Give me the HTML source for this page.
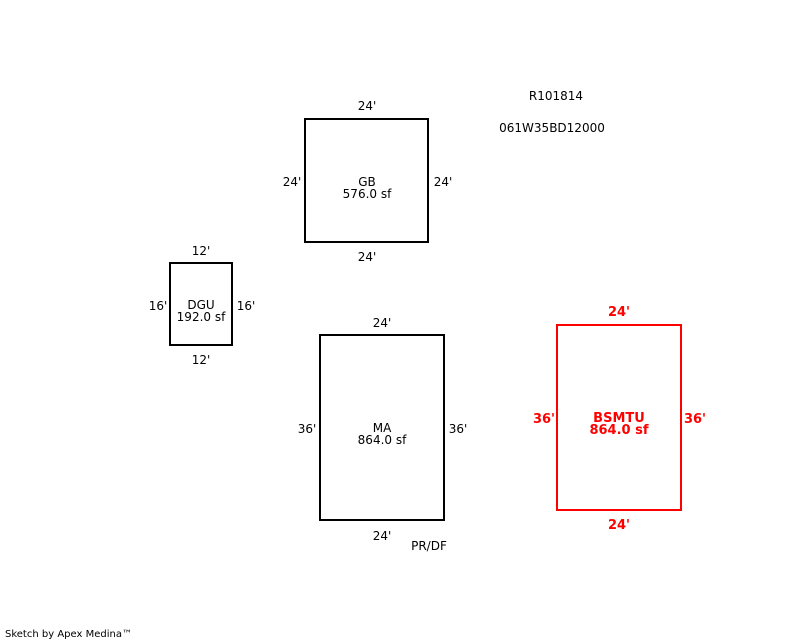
<!DOCTYPE html>
<html><head><style>body{margin:0;background:#fff}svg{display:block}text{font-family:"DejaVu Sans","Liberation Sans",sans-serif;font-size:12px}</style></head><body>
<svg width="800" height="640" xmlns="http://www.w3.org/2000/svg">
<g fill="none" stroke="#000" stroke-width="2">
<rect x="305" y="119" width="123" height="123"/>
<rect x="170" y="263" width="62" height="82"/>
<rect x="320" y="335" width="124" height="185"/>
</g>
<rect x="557" y="325" width="124" height="185" fill="none" stroke="#f00" stroke-width="2"/>
<g text-anchor="middle" fill="#000">
<text x="556" y="100">R101814</text>
<text x="552" y="132">061W35BD12000</text>
<text x="367" y="110">24'</text>
<text x="367" y="261">24'</text>
<text x="292" y="186">24'</text>
<text x="443" y="186">24'</text>
<text x="367" y="186">GB</text>
<text x="367" y="198">576.0 sf</text>
<text x="201" y="255">12'</text>
<text x="201" y="364">12'</text>
<text x="158" y="310">16'</text>
<text x="246" y="310">16'</text>
<text x="201" y="309">DGU</text>
<text x="201" y="321">192.0 sf</text>
<text x="382" y="327">24'</text>
<text x="382" y="540">24'</text>
<text x="307" y="433">36'</text>
<text x="458" y="433">36'</text>
<text x="382" y="432">MA</text>
<text x="382" y="444">864.0 sf</text>
<text x="429" y="550">PR/DF</text>
</g>
<g text-anchor="middle" fill="#f00">
<text x="619" y="316" style="font-weight:bold;font-size:13px">24'</text>
<text x="619" y="529" style="font-weight:bold;font-size:13px">24'</text>
<text x="544" y="423" style="font-weight:bold;font-size:13px">36'</text>
<text x="695" y="423" style="font-weight:bold;font-size:13px">36'</text>
<text x="619" y="422" style="font-weight:bold;font-size:13px">BSMTU</text>
<text x="619" y="434" style="font-weight:bold;font-size:13px">864.0 sf</text>
</g>
<text x="5" y="637" style="font-size:10px">Sketch by Apex Medina™</text>
</svg>
</body></html>
